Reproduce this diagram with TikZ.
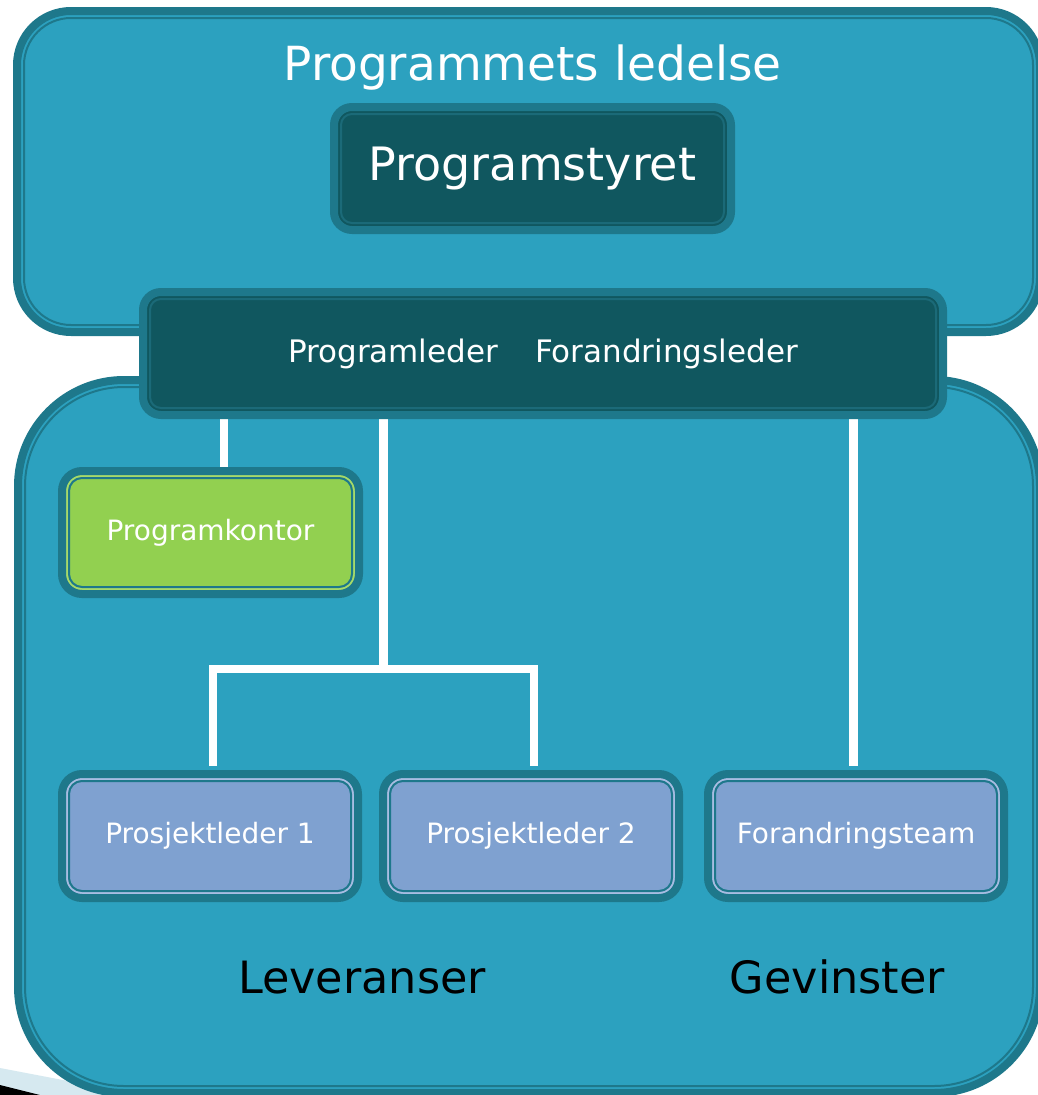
\documentclass[tikz,border=0pt]{standalone}
\usepackage{fontspec}
\setmainfont{DejaVu Sans}
\usetikzlibrary{calc}

\definecolor{panelfill}{HTML}{2CA1BF}
\definecolor{bandcol}{HTML}{1E788B}
\definecolor{darkfill}{HTML}{10575F}
\definecolor{darkline}{HTML}{1B6A78}
\definecolor{greenfill}{HTML}{92D050}
\definecolor{greengap}{HTML}{A6DA6A}
\definecolor{bluefill}{HTML}{7FA1D0}
\definecolor{bluegap}{HTML}{A8BDE2}
\definecolor{wedgeblue}{HTML}{D6E9F0}

\pgfdeclarelayer{panels}
\pgfdeclarelayer{wires}
\pgfsetlayers{panels,wires,main}

\tikzset{
  % rounded box: thick outer band, a thin gap line and a thin inner line
  framed/.style n args={4}{%
    draw=bandcol, line width=8pt, fill=#1, rounded corners=#4,
    inner sep=0pt, outer sep=0pt,
    path picture={
      \draw[draw=#2, line width=2pt, rounded corners=#4-5pt]
        ($(path picture bounding box.north west)+(5pt,-5pt)$) rectangle
        ($(path picture bounding box.south east)+(-5pt,5pt)$);
      \draw[draw=#3, line width=2pt, rounded corners=#4-7pt]
        ($(path picture bounding box.north west)+(7pt,-7pt)$) rectangle
        ($(path picture bounding box.south east)+(-7pt,7pt)$);
    }},
  panel/.style={framed={panelfill}{panelfill}{bandcol}{#1}},
  darkbox/.style={framed={darkfill}{darkfill}{darkline}{18pt}, text=white},
  leadbox/.style={darkbox, minimum width=800pt, minimum height=123pt,
    font=\fontsize{31}{34}\selectfont},
  greenbox/.style={framed={greenfill}{greengap}{bandcol}{20pt}, text=white,
    minimum width=297pt, minimum height=123pt, font=\fontsize{28}{32}\selectfont},
  bluebox/.style={framed={bluefill}{bluegap}{bandcol}{20pt}, text=white,
    minimum width=296pt, minimum height=124pt, font=\fontsize{28}{32}\selectfont},
  wire/.style={draw=white, line width=8.5pt},
  heading/.style={anchor=base, font=\fontsize{44.5}{50}\selectfont},
}

\begin{document}
\begin{tikzpicture}[x=1pt, y=-1pt]
\useasboundingbox (0,0) rectangle (1038,1095);
\clip (0,0) rectangle (1038,1095);

\begin{pgfonlayer}{panels}
\fill[white] (0,0) rectangle (1038,1095);
% corner decoration at the lower left
\fill[wedgeblue] (0,1068) -- (220,1110) -- (0,1110) -- cycle;
\fill[black] (0,1085) -- (100,1110) -- (0,1110) -- cycle;
% the two large panels
\node[panel=54pt, minimum width=1023pt, minimum height=321pt] (top) at (528.5,171.5) {};
\node[panel=106pt, minimum width=1022pt, minimum height=713pt] (bottom) at (529,736.5) {};
\end{pgfonlayer}

\node[heading, text=white, font=\fontsize{47}{52}\selectfont] (ledelse) at (532.5,80) {Programmets ledelse};

\node[darkbox, minimum width=397pt, minimum height=123pt,
      font=\fontsize{46}{50}\selectfont] (ps) at (532.5,168.5) {Programstyret};
\node[leadbox] (lead) at (543,353.5) {Programleder\hspace{37pt}Forandringsleder};

\node[greenbox] (pk) at (210.5,532.5) {Programkontor};
\node[bluebox] (p1) at (210,836) {Prosjektleder 1};
\node[bluebox] (p2) at (531,836) {Prosjektleder 2};
\node[bluebox] (ft) at (856,836) {Forandringsteam};

\node[heading, text=black] (lev) at (362,993) {Leveranser};
\node[heading, text=black] (gev) at (837.5,993) {Gevinster};

% connectors, below the boxes
\coordinate (kontorline) at (224,0);
\coordinate (fork) at (383.5,669);
\coordinate (gevinstline) at (853.5,0);
\begin{pgfonlayer}{wires}
\draw[wire] (lead.south -| kontorline) -- (kontorline |- pk.north);
\draw[wire] (lead.south -| fork) -- (fork);
\draw[wire] ($(p1.north)+(3,-8)$) |- (fork) -| ($(p2.north)+(3,-8)$);
\draw[wire] (lead.south -| gevinstline) -- ($(ft.north)+(-2.5,-8)$);
\end{pgfonlayer}
\end{tikzpicture}
\end{document}
